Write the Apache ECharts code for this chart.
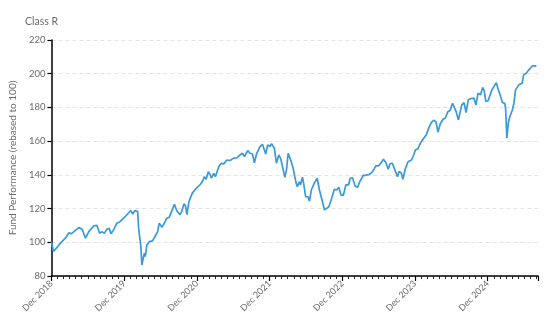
<!DOCTYPE html>
<html>
<head>
<meta charset="utf-8">
<script src="https://cdn.jsdelivr.net/npm/echarts@6/dist/echarts.min.js"></script>
<style>
html,body{margin:0;padding:0;background:#fff;}
#c{width:554px;height:326px;}
</style>
</head>
<body>
<div id="c"></div>
<script>
var title = 'Class R';
var yAxisName = 'Fund Performance (rebased to 100)';
var tickLabels = ['Dec 2018','Dec 2019','Dec 2020','Dec 2021','Dec 2022','Dec 2023','Dec 2024'];
var yTicks = [80,100,120,140,160,180,200,220];

var dates = [
'2019-01-01','2019-01-11','2019-01-26','2019-02-15','2019-02-28','2019-03-10','2019-03-28','2019-04-09','2019-04-23','2019-05-04',
'2019-05-17','2019-06-03','2019-06-20','2019-07-06','2019-07-18','2019-07-31','2019-08-17','2019-08-30','2019-09-11','2019-09-23',
'2019-10-06','2019-10-17','2019-10-26','2019-11-09','2019-11-25','2019-12-11','2019-12-28','2020-01-14','2020-01-24','2020-02-04',
'2020-02-14','2020-02-24','2020-03-03','2020-03-08','2020-03-13','2020-03-19','2020-03-24','2020-03-29','2020-04-04','2020-04-11',
'2020-04-16','2020-04-24','2020-05-06','2020-05-22','2020-05-31','2020-06-08','2020-06-17','2020-06-25','2020-07-08','2020-07-20',
'2020-08-02','2020-08-14','2020-08-26','2020-09-10','2020-09-22','2020-10-07','2020-10-16','2020-10-28','2020-11-05','2020-11-12',
'2020-11-22','2020-12-08','2020-12-17','2020-12-28','2021-01-11','2021-01-23','2021-02-02','2021-02-08','2021-02-17','2021-02-28',
'2021-03-08','2021-03-13','2021-03-25','2021-04-03','2021-04-20','2021-05-02','2021-05-14','2021-05-30','2021-06-16','2021-07-03',
'2021-07-19','2021-08-05','2021-08-17','2021-08-27','2021-09-13','2021-09-24','2021-10-06','2021-10-16','2021-10-28','2021-11-14',
'2021-11-26','2021-12-05','2021-12-12','2021-12-22','2022-01-03','2022-01-11','2022-01-25','2022-02-05','2022-02-17','2022-02-27',
'2022-03-05','2022-03-17','2022-03-25','2022-04-03','2022-04-09','2022-04-19','2022-04-28','2022-05-06','2022-05-14','2022-05-19',
'2022-05-28','2022-06-04','2022-06-14','2022-06-20','2022-06-30','2022-07-12','2022-07-19','2022-07-28','2022-08-14','2022-08-27',
'2022-09-08','2022-09-21','2022-10-03','2022-10-11','2022-10-25','2022-11-06','2022-11-22','2022-12-04','2022-12-14','2022-12-25',
'2023-01-06','2023-01-19','2023-02-02','2023-02-10','2023-02-22','2023-03-05','2023-03-17','2023-03-28','2023-04-14','2023-04-28',
'2023-05-14','2023-05-27','2023-06-09','2023-06-17','2023-06-30','2023-07-12','2023-07-25','2023-08-06','2023-08-19','2023-08-27',
'2023-09-09','2023-09-22','2023-10-04','2023-10-12','2023-10-23','2023-11-01','2023-11-14','2023-11-27','2023-12-14','2023-12-25',
'2024-01-03','2024-01-16','2024-01-28','2024-02-14','2024-02-27','2024-03-09','2024-03-22','2024-04-03','2024-04-15','2024-04-25',
'2024-05-06','2024-05-20','2024-05-31','2024-06-14','2024-06-25','2024-07-07','2024-07-15','2024-07-25','2024-08-06','2024-08-11',
'2024-08-23','2024-09-04','2024-09-14','2024-09-25','2024-10-09','2024-10-17','2024-10-23','2024-11-03','2024-11-13','2024-11-26',
'2024-12-06','2024-12-14','2024-12-22','2025-01-03','2025-01-12','2025-01-22','2025-02-01','2025-02-14','2025-02-23','2025-03-04',
'2025-03-14','2025-03-26','2025-03-30','2025-04-06','2025-04-13','2025-04-20','2025-05-03','2025-05-11','2025-05-19','2025-05-26',
'2025-06-05','2025-06-12','2025-06-22','2025-06-29','2025-07-12','2025-07-25','2025-08-02','2025-08-12','2025-08-18','2025-08-28',
'2025-09-02'
];

var values = [
100.4,94.6,96.5,99.4,101,102.4,105.7,105,106.3,107.5,
108.7,107.7,102.4,106.3,108,109.7,110,105.3,106.3,105.3,
107.7,108.3,105,107.3,111.3,112.2,114.2,116.2,117.5,118.8,
116.8,118.8,119.2,118.2,108.3,107.3,97.4,86.5,85.5,93.5,
91.5,98.4,100.4,100.8,100.4,104.3,106.3,111.3,108.9,111.3,
114.2,114.8,118.2,122.5,118.7,116.4,118.2,122.9,121.5,116.4,
124.1,129,129.5,132,133.4,135,137,138.9,137.4,141.9,
139.9,138,140.9,138.9,144.9,146.9,146.5,148.8,148.5,149.9,
150,151.8,152.8,150.8,154.4,152.8,152.5,147.2,152.8,156.7,
158.1,157.5,152.4,157.7,156.8,158.5,155.8,146.9,151.8,149.5,
144.9,138.5,143,152.8,153.5,147.8,143.9,138.9,134.5,133,
135.9,134,138.6,135,127.1,127,124.4,131,135.4,138,
131,125.1,119.2,118.2,121.1,125.1,131.5,131,132.6,128.1,
127.8,134,134,138,138.3,133.4,132.6,135.9,139.5,139.8,
140.2,141.3,143.5,145.3,145.3,146.9,149.3,147.5,143.3,146.5,
146.9,142.9,138.9,142,141.3,137.4,143.9,147.8,148.8,151.8,
154.8,155.5,158.7,161.7,163.7,167.7,171,172.4,171.5,165.3,
170.2,173,173.6,177.5,178.2,182.5,183.1,177.5,172.6,173,
181.5,182.9,176.9,184.5,185.3,186.1,185.5,181.5,188.4,187.5,
191.9,189.8,183.5,184,183.5,190.4,190.8,194.7,190.8,187,
182.9,182.4,179.5,161.7,170.6,174.2,178.5,182.5,190.4,189.8,
193.4,192.6,194.4,199.3,200.3,202.3,201.8,204.6,205.6,204.6,
204.2
];

// months elapsed since the end of Dec 2018
function monthsSinceStart(s){
  var p = s.split('-').map(Number);
  return (p[0]-2019)*12 + (p[1]-1) + (p[2]-1)/30.44;
}
var seriesData = dates.map(function(d,i){ return [monthsSinceStart(d), values[i]]; });

var FONT = 'Lato';
var chart = echarts.init(document.getElementById('c'), null, {renderer:'canvas'});
chart.setOption({
  animation:false,
  backgroundColor:'#ffffff',
  title:{text:title,left:20,top:11,textStyle:{fontFamily:FONT,fontSize:10.5,fontWeight:'normal',color:'#6b6b6b'}},
  grid:{left:48,right:16,top:40,bottom:50,containLabel:false},
  xAxis:{
    type:'value',min:0,max:80.3,interval:12,
    axisLine:{show:true,lineStyle:{color:'#000',width:1.5}},
    axisTick:{show:true,length:5,lineStyle:{color:'#000',width:1.2}},
    minorTick:{show:true,splitNumber:12,length:3,lineStyle:{color:'#222',width:1}},
    splitLine:{show:false},
    axisLabel:{
      rotate:45,fontFamily:FONT,fontSize:9,color:'#6b6b6b',margin:6,showMaxLabel:false,
      formatter:function(v){ var i=Math.round(v/12); return (Math.abs(v-i*12)<0.01 && tickLabels[i])?tickLabels[i]:''; }
    }
  },
  yAxis:{
    type:'value',min:yTicks[0],max:yTicks[yTicks.length-1],interval:20,
    name:yAxisName,nameLocation:'middle',nameGap:21,
    nameTextStyle:{fontFamily:FONT,fontSize:10,color:'#6b6b6b'},
    axisLine:{show:true,lineStyle:{color:'#000',width:1.5}},
    axisTick:{show:true,length:4,lineStyle:{color:'#000',width:1.2}},
    axisLabel:{fontFamily:FONT,fontSize:9.5,color:'#6b6b6b',margin:6},
    splitLine:{show:true,lineStyle:{color:'#e3e3e3',type:[4,3],width:1}}
  },
  series:[{
    type:'line',data:seriesData,showSymbol:false,
    lineStyle:{color:'#3a9ad9',width:1.7},
    itemStyle:{color:'#3a9ad9'}
  }]
});
</script>
</body>
</html>
